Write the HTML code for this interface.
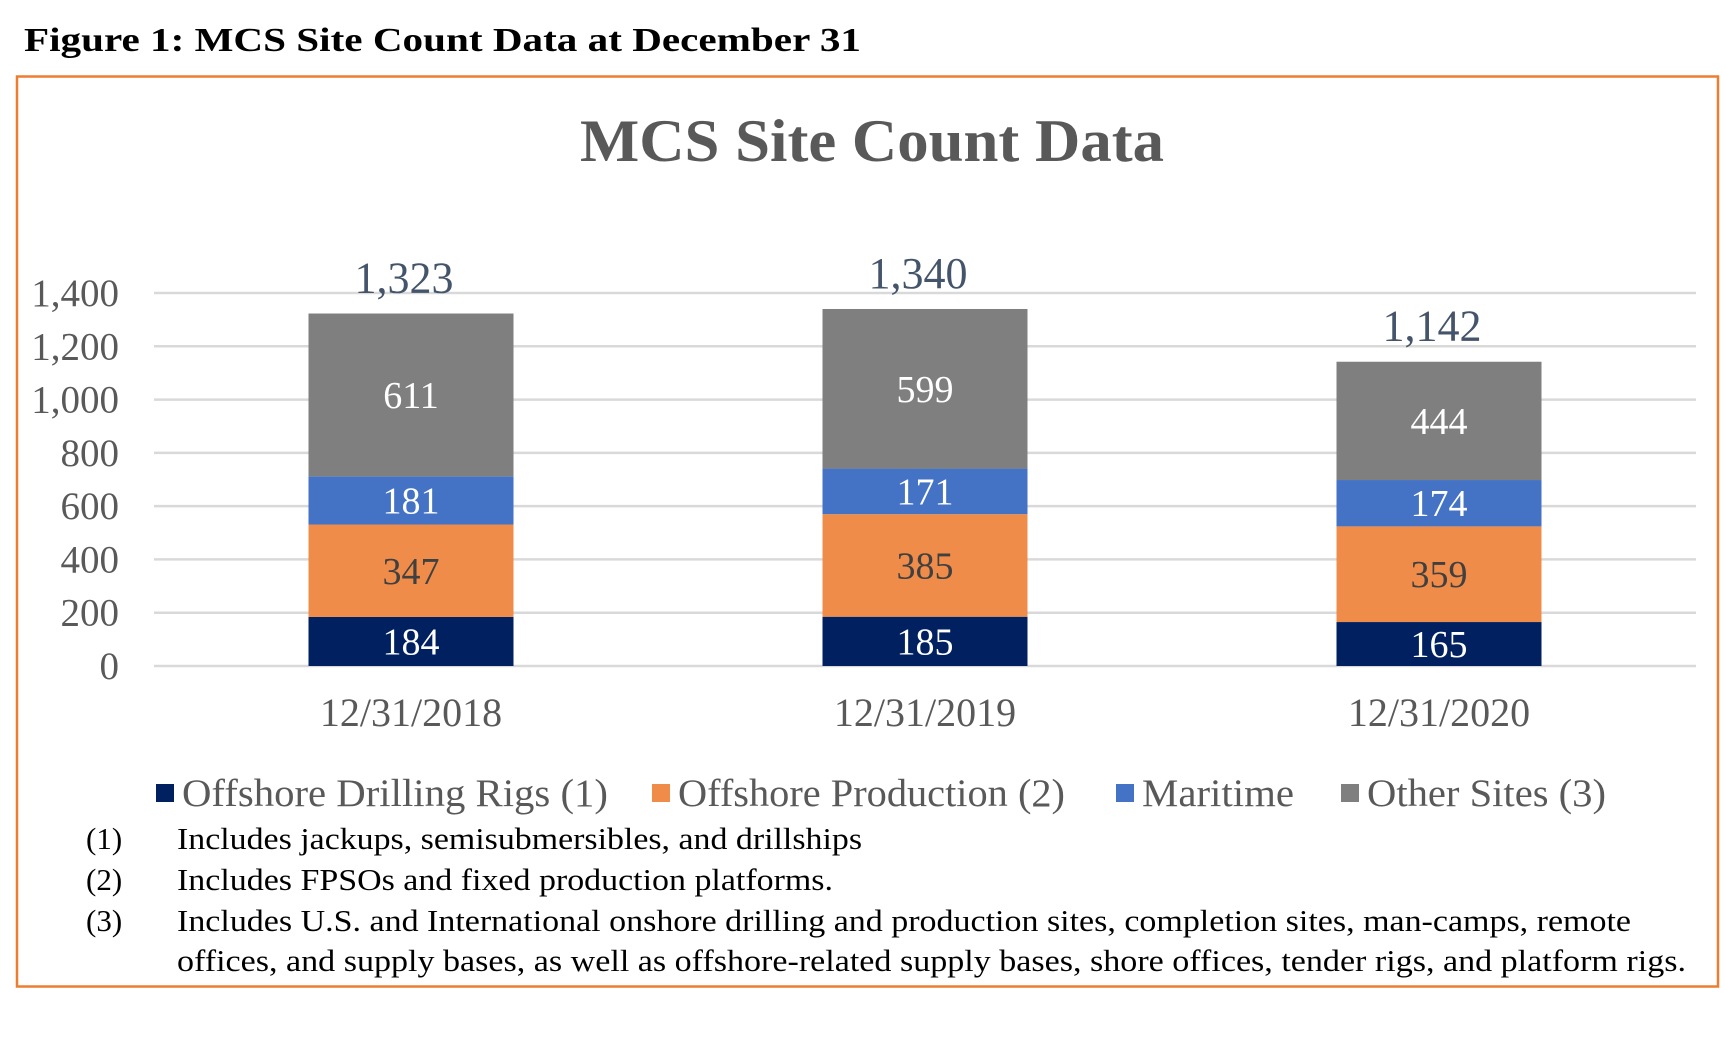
<!DOCTYPE html>
<html><head><meta charset="utf-8"><style>
html,body{margin:0;padding:0;background:#fff;}
svg{display:block;font-family:"Liberation Serif",serif;}
</style></head><body>
<svg id="chart" width="1725" height="1041" viewBox="0 0 1725 1041">
<text x="24" y="51" font-size="34" font-weight="bold" fill="#000" textLength="837" lengthAdjust="spacingAndGlyphs">Figure 1:  MCS Site Count Data at December 31</text>
<rect x="17" y="76.5" width="1701" height="910" fill="none" stroke="#ED7D31" stroke-width="2.5"/>
<text x="872" y="161" text-anchor="middle" font-size="60" font-weight="bold" fill="#595959" textLength="584" lengthAdjust="spacingAndGlyphs">MCS Site Count Data</text>
<g id="grid"></g><g id="bars"></g><g id="labels"></g>
<g id="legend"></g>
<g font-size="31" fill="#000">
<text x="86" y="849">(1)</text>
<text x="177" y="849" textLength="685" lengthAdjust="spacingAndGlyphs">Includes jackups, semisubmersibles, and drillships</text>
<text x="86" y="890">(2)</text>
<text x="177" y="890" textLength="656" lengthAdjust="spacingAndGlyphs">Includes FPSOs and fixed production platforms.</text>
<text x="86" y="931">(3)</text>
<text x="177" y="931" textLength="1454" lengthAdjust="spacingAndGlyphs">Includes U.S. and International onshore drilling and production sites, completion sites, man-camps, remote</text>
<text x="177" y="971" textLength="1509" lengthAdjust="spacingAndGlyphs">offices, and supply bases, as well as offshore-related supply bases, shore offices, tender rigs, and platform rigs.</text>
</g>
</svg>
<script>
const categories = ["12/31/2018", "12/31/2019", "12/31/2020"];
const seriesNames = ["Offshore Drilling Rigs (1)", "Offshore Production (2)", "Maritime", "Other Sites (3)"];
const drilling = [184, 185, 165];
const production = [347, 385, 359];
const maritime = [181, 171, 174];
const other = [611, 599, 444];
const totals = [1323, 1340, 1142];
const yTicks = [0, 200, 400, 600, 800, 1000, 1200, 1400];
const yTickLabels = ["0", "200", "400", "600", "800", "1,000", "1,200", "1,400"];

const NS = "http://www.w3.org/2000/svg";
const colors = ["#002060", "#F08C4A", "#4472C4", "#7F7F7F"];
const labelColors = ["#fff", "#404040", "#fff", "#fff"];
const legendLens = [426, 387, 152, 239];
const plotL = 154, plotR = 1696, y0 = 666, y1400 = 293;
const yScale = v => y0 - (v / 1400) * (y0 - y1400);
const band = (plotR - plotL) / categories.length;
const xCenter = i => plotL + band * (i + 0.5);
const barW = 205;
function mk(tag, attrs, parent) {
  const e = document.createElementNS(NS, tag);
  for (const k in attrs) e.setAttribute(k, attrs[k]);
  parent.appendChild(e);
  return e;
}
const grid = document.getElementById("grid");
yTicks.forEach((t, i) => {
  const l = mk("line", {x1: plotL, x2: plotR, y1: yScale(t), y2: yScale(t), stroke: "#D9D9D9", "stroke-width": 2.5}, grid);
  
  
  const tx = mk("text", {x: 119, y: yScale(t) + 13, "text-anchor": "end", "font-size": 39, fill: "#595959"}, grid);
  tx.textContent = yTickLabels[i];
  
  
});
const bars = document.getElementById("bars"), labels = document.getElementById("labels");
const series = [drilling, production, maritime, other];
categories.forEach((c, i) => {
  let base = 0;
  const cx = xCenter(i);
  series.forEach((s, k) => {
    const v = s[i];
    const yt = yScale(base + v), yb = yScale(base);
    const r = mk("rect", {x: cx - barW / 2, y: yt, width: barW, height: yb - yt, fill: colors[k]}, bars);
    
    
    const t = mk("text", {x: cx, y: (yt + yb) / 2 + 13, "text-anchor": "middle", "font-size": 38, fill: labelColors[k]}, labels);
    t.textContent = v;
    
    
    base += v;
  });
  const tot = mk("text", {x: cx - 7, y: yScale(totals[i]) - 21, "text-anchor": "middle", "font-size": 44, fill: "#44546A"}, labels);
  tot.textContent = totals[i].toLocaleString("en-US");
  
  
  const xl = mk("text", {x: cx, y: 726, "text-anchor": "middle", "font-size": 40, fill: "#595959"}, labels);
  xl.textContent = c;
  
  
});
const legend = document.getElementById("legend");
const legX = [156, 652, 1116, 1341];
seriesNames.forEach((n, k) => {
  const sq = mk("rect", {x: legX[k], y: 784, width: 18, height: 18, fill: colors[k]}, legend);
  
  
  const t = mk("text", {x: legX[k] + 26, y: 806, "font-size": 39, fill: "#595959", textLength: legendLens[k], lengthAdjust: "spacingAndGlyphs"}, legend);
  t.textContent = n;
  
  
});
</script>
</body></html>
